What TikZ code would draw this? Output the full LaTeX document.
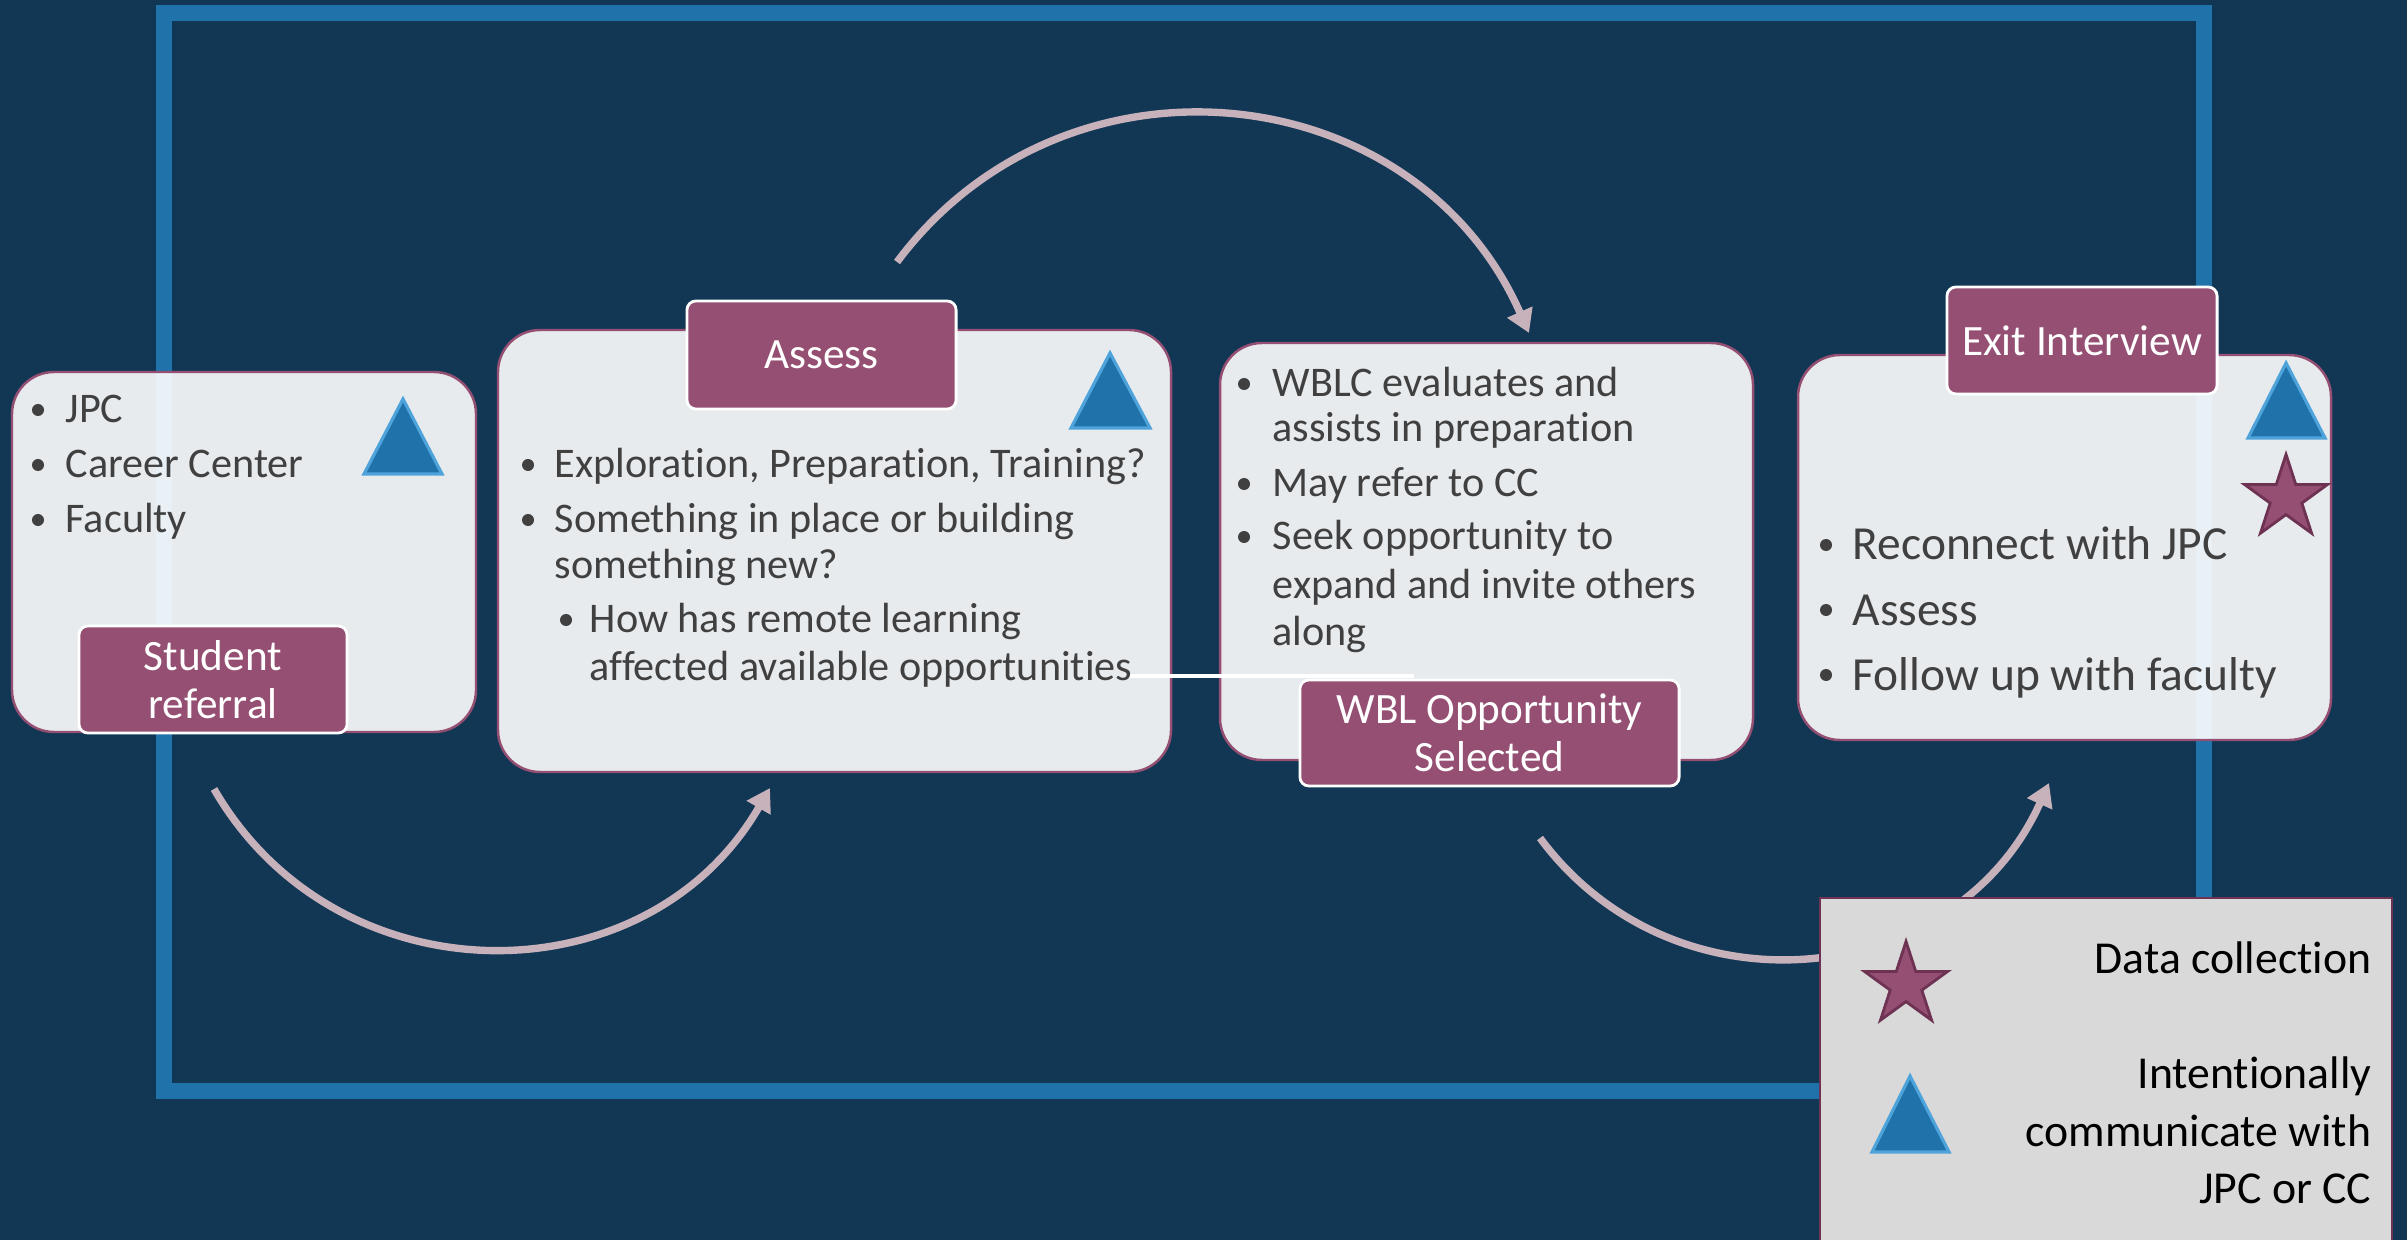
\documentclass[tikz,border=0pt]{standalone}
\usepackage{fontspec}
\setmainfont{Carlito}[Ligatures=NoCommon]
\usetikzlibrary{arrows.meta,shapes.geometric}

\definecolor{navy}{RGB}{18,55,84}
\definecolor{frameblue}{RGB}{31,114,170}
\definecolor{tribord}{RGB}{79,163,219}
\definecolor{mauve}{RGB}{149,79,114}
\definecolor{mauvedark}{RGB}{110,50,82}
\definecolor{arcgrey}{RGB}{199,177,187}
\definecolor{ink}{RGB}{64,64,64}
\definecolor{legendgrey}{RGB}{217,217,217}

\tikzset{
  panel/.style={draw=mauve, line width=0.7pt, fill=white, fill opacity=0.9, rounded corners=0.42cm},
  tag/.style={draw=white, line width=0.8pt, fill=mauve, rounded corners=0.09cm, text=white,
    align=center, inner sep=0pt, font=\fontsize{12.3}{13.6}\selectfont},
  txt/.style={anchor=base west, inner sep=0pt, text=ink, font=\fontsize{12}{14}\selectfont},
  bigtxt/.style={txt, font=\fontsize{13.5}{16}\selectfont},
  keytxt/.style={anchor=base east, inner sep=0pt, text=black, font=\fontsize{13}{15}\selectfont},
  bul/.style={circle, fill=ink, inner sep=0pt, minimum size=0.12cm},
  tri/.style={fill=frameblue, draw=tribord, line width=0.9pt},
  datastar/.style={star, star points=5, star point ratio=2.618, fill=mauve, draw=mauvedark,
    line width=0.8pt, inner sep=0pt, minimum size=0.87cm},
  flow/.style={draw=arcgrey, line width=2.1pt, -{Triangle[length=6.5pt,width=7.5pt]}}
}

\begin{document}
\begin{tikzpicture}[x=0.01cm,y=-0.01cm]
  \clip (0,0) rectangle (2407,1240);
  \fill[navy] (0,0) rectangle (2407,1240);

  % outer frame
  \draw[frameblue, line width=4.55pt] (164,13) rectangle (2204,1091);

  % curved arrows
  \coordinate (r1s) at (214,789);
  \coordinate (r1e) at (770,788);
  \coordinate (r2s) at (897,262);
  \coordinate (r2e) at (1529,333);
  \coordinate (r3s) at (1540,838);
  \coordinate (r3e) at (2049,783);
  \draw[flow] (r1s) .. controls (337,1002) and (647,1001) .. (r1e);
  \draw[flow] (r2s) .. controls (1066,36) and (1415,75) .. (r2e);
  \draw[flow] (r3s) .. controls (1675,1020) and (1956,990) .. (r3e);

  % panels
  \draw[panel] (12,372) rectangle (476,732);
  \draw[panel] (498,330) rectangle (1171,772);
  \draw[panel] (1220,343) rectangle (1753,760);
  \draw[panel] (1798,355) rectangle (2331,740);

  \coordinate (wl) at (1128,676);
  \coordinate (wr) at (1414,676);
  \draw[white, line width=0.9pt] (wl) -- (wr);

  % panel 1
  \node[bul] (b11) at (38,410) {};
  \node[txt] (t11) at (65,423) {JPC};
  \node[bul] (b12) at (38,465) {};
  \node[txt] (t12) at (65,478) {Career Center};
  \node[bul] (b13) at (38,520) {};
  \node[txt] (t13) at (65,533) {Faculty};
  \node[tag, minimum width=2.68cm, minimum height=1.07cm] (referral) at (213,679.5) {Student\\referral};
  \draw[tri] (364,474) -- ++(39,-75) -- ++(39,75) -- cycle;

  % panel 2
  \node[tag, minimum width=2.69cm, minimum height=1.08cm] (assess) at (821.5,355) {Assess};
  \draw[tri] (1071,428) -- ++(39,-75) -- ++(40,75) -- cycle;
  \node[bul] (b21) at (528,465) {};
  \node[txt] (t21) at (554,478) {Exploration, Preparation, Training?};
  \node[bul] (b22) at (528,520) {};
  \node[txt] (t22) at (554,533) {Something in place or building};
  \node[txt] (t23) at (554,578) {something new?};
  \node[bul] (b24) at (566,620) {};
  \node[txt] (t24) at (589,633) {How has remote learning};
  \node[txt] (t25) at (589,680) {affected available opportunities};

  % panel 3
  \node[bul] (b31) at (1244,384) {};
  \node[txt] (t31) at (1272,397) {WBLC evaluates and};
  \node[txt] (t32) at (1272,442) {assists in preparation};
  \node[bul] (b33) at (1244,484) {};
  \node[txt] (t33) at (1272,497) {May refer to CC};
  \node[bul] (b34) at (1244,537) {};
  \node[txt] (t34) at (1272,550) {Seek opportunity to};
  \node[txt] (t35) at (1272,598) {expand and invite others};
  \node[txt] (t36) at (1272,645) {along};
  \node[tag, minimum width=3.79cm, minimum height=1.06cm] (selected) at (1489.5,733) {WBL Opportunity\\Selected};

  % panel 4
  \node[tag, minimum width=2.70cm, minimum height=1.07cm] (exit) at (2082,340.5) {Exit Interview};
  \draw[tri] (2248,438) -- ++(38,-75) -- ++(39,75) -- cycle;
  \node[datastar] (s4) at (2286,498) {};
  \node[bul] (b41) at (1826,545) {};
  \node[bigtxt] (t41) at (1852,560) {Reconnect with JPC};
  \node[bul] (b42) at (1826,610) {};
  \node[bigtxt] (t42) at (1852,625) {Assess};
  \node[bul] (b43) at (1826,675) {};
  \node[bigtxt] (t43) at (1852,690) {Follow up with faculty};

  % legend
  \draw[draw=mauvedark, line width=0.7pt, fill=legendgrey] (1820,898) rectangle (2392,1260);
  \node[datastar] (sk) at (1906,985) {};
  \draw[tri] (1872,1152) -- ++(38,-76) -- ++(39,76) -- cycle;
  \node[keytxt] (k1) at (2372,973) {Data collection};
  \node[keytxt] (k2) at (2372,1088) {Intentionally};
  \node[keytxt] (k3) at (2372,1146) {communicate with};
  \node[keytxt] (k4) at (2372,1203) {JPC or CC};
\end{tikzpicture}
\end{document}
